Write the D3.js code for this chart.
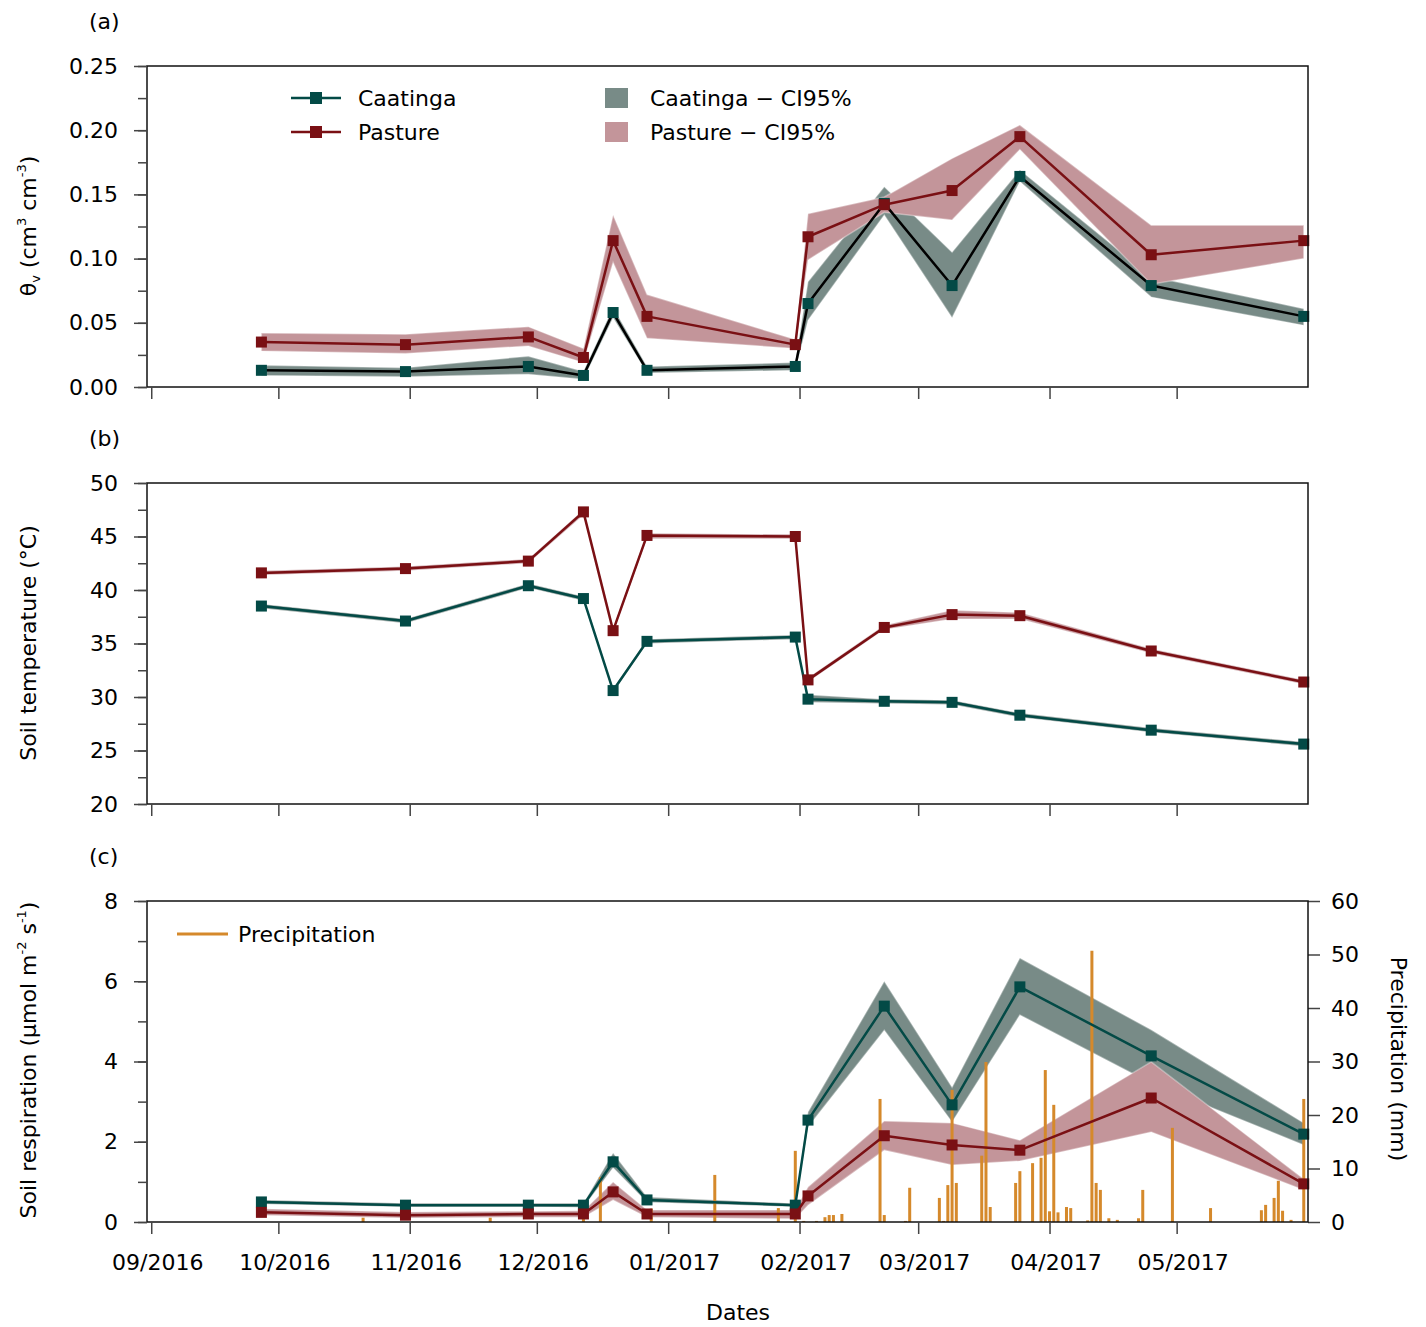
<!DOCTYPE html>
<html lang="en">
<head>
<meta charset="UTF-8">
<title>Soil moisture, temperature and respiration</title>
<script src="https://cdn.jsdelivr.net/npm/d3@7"></script>
<style>
body{margin:0;background:#fff}
svg text{font-family:'DejaVu Sans',sans-serif;fill:#000}
</style>
</head>
<body>
<div id="chart"></div>
<script>
// sampling campaigns
var sampleDates=['2016-09-27','2016-10-31','2016-11-29','2016-12-12','2016-12-19','2016-12-27','2017-01-31','2017-02-03','2017-02-21','2017-03-09','2017-03-25','2017-04-25','2017-05-31']

// (a) soil moisture, cm3 cm-3
var caaTheta  =[0.013,0.012,0.016,0.009,0.058,0.013,0.016,0.065,0.143,0.079,0.164,0.079,0.055]
var caaThetaLo=[0.009,0.008,0.010,0.006,0.054,0.011,0.013,0.052,0.134,0.054,0.160,0.070,0.048]
var caaThetaHi=[0.017,0.015,0.024,0.012,0.062,0.016,0.019,0.082,0.156,0.105,0.169,0.086,0.061]
var pasTheta  =[0.035,0.033,0.039,0.023,0.114,0.055,0.033,0.117,0.142,0.153,0.195,0.103,0.114]
var pasThetaLo=[0.028,0.026,0.032,0.019,0.097,0.038,0.030,0.099,0.136,0.130,0.185,0.080,0.100]
var pasThetaHi=[0.042,0.041,0.047,0.030,0.134,0.072,0.037,0.135,0.148,0.178,0.204,0.126,0.126]

// (b) soil temperature, C
var caaTemp  =[38.5,37.1,40.4,39.2,30.6,35.2,35.6,29.8,29.6,29.5,28.3,26.9,25.6]
var caaTempLo=[38.3,36.9,40.2,39.0,30.4,35.0,35.4,29.5,29.4,29.3,28.1,26.7,25.4]
var caaTempHi=[38.7,37.3,40.6,39.4,30.8,35.4,35.8,30.2,29.8,29.7,28.5,27.1,25.8]
var pasTemp  =[41.6,42.0,42.7,47.3,36.2,45.1,45.0,31.6,36.5,37.7,37.6,34.3,31.4]
var pasTempLo=[41.4,41.8,42.5,47.0,36.0,44.8,44.8,31.4,36.3,37.3,37.3,34.1,31.2]
var pasTempHi=[41.8,42.2,42.9,47.5,36.4,45.3,45.2,31.8,36.7,38.1,37.9,34.5,31.6]

// (c) soil respiration, umol m-2 s-1
var caaResp  =[0.50,0.42,0.42,0.42,1.50,0.55,0.42,2.54,5.38,2.92,5.86,4.14,2.19]
var caaRespLo=[0.45,0.38,0.38,0.37,1.35,0.49,0.38,2.37,4.78,2.49,5.16,3.46,1.92]
var caaRespHi=[0.55,0.47,0.47,0.47,1.72,0.62,0.46,2.74,6.00,3.36,6.58,4.79,2.47]
var pasResp  =[0.24,0.17,0.20,0.20,0.75,0.20,0.20,0.65,2.15,1.92,1.79,3.09,0.95]
var pasRespLo=[0.17,0.10,0.12,0.12,0.55,0.12,0.08,0.42,1.79,1.42,1.52,2.24,0.80]
var pasRespHi=[0.33,0.25,0.27,0.28,1.00,0.30,0.30,0.87,2.52,2.47,2.04,3.99,1.07]

// daily precipitation, mm
var rainDates=['2016-10-21','2016-11-20','2016-12-12','2016-12-16','2016-12-28','2017-01-12','2017-01-27','2017-01-31',
  '2017-02-02','2017-02-05','2017-02-07','2017-02-08','2017-02-09','2017-02-11','2017-02-20','2017-02-21','2017-02-26','2017-02-27',
  '2017-03-06','2017-03-07','2017-03-08','2017-03-09','2017-03-10','2017-03-16','2017-03-17','2017-03-18','2017-03-24','2017-03-25',
  '2017-03-28','2017-03-30','2017-03-31','2017-04-01','2017-04-02','2017-04-03','2017-04-05','2017-04-06','2017-04-10','2017-04-11',
  '2017-04-12','2017-04-13','2017-04-15','2017-04-17','2017-04-22','2017-04-23','2017-04-30','2017-05-09','2017-05-21','2017-05-22',
  '2017-05-24','2017-05-25','2017-05-26','2017-05-28','2017-05-31']
var rainMm=[0.8,0.8,2.0,8.4,2.5,8.8,2.6,13.3,
  0.2,0.2,0.9,1.3,1.3,1.5,23.0,1.3,0.2,6.4,
  4.5,0.2,6.9,24.7,7.3,12.4,29.9,2.8,7.3,9.5,
  11.0,12.0,28.4,2.0,21.9,1.8,2.8,2.6,0.3,50.7,
  7.3,6.0,0.7,0.4,0.7,6.0,17.6,2.6,2.2,3.2,
  4.5,7.7,2.1,0.4,23.0]

// axes
var monthTicks=['2016-09-01','2016-10-01','2016-11-01','2016-12-01','2017-01-01','2017-02-01','2017-03-01','2017-04-01','2017-05-01']
var monthLabels=['09/2016','10/2016','11/2016','12/2016','01/2017','02/2017','03/2017','04/2017','05/2017']
var thetaTicks=[0,0.05,0.10,0.15,0.20,0.25]
var tempTicks=[20,25,30,35,40,45,50]
var respTicks=[0,2,4,6,8]
var rainTicks=[0,10,20,30,40,50,60]

var col={caa:'#034a46',pas:'#7a1014',caaBand:'#788b87',pasBand:'#c3959a',rain:'#d5892b'}
var parse=d3.utcParse('%Y-%m-%d')
var dates=sampleDates.map(parse)

var W=1426,H=1327
var L=147,R=1308,PH=321
var x=d3.scaleUtc().domain([parse('2016-08-31'),parse('2017-06-01')]).range([L,R])

var svg=d3.select('#chart').append('svg').attr('width',W).attr('height',H)

var panels=[
  {tag:'(a)',top:66,dom:[0,0.25],ticks:thetaTicks,minor:0.025,fmt:d3.format('.2f'),caaLine:'#000',
   caa:[caaTheta,caaThetaLo,caaThetaHi],pas:[pasTheta,pasThetaLo,pasThetaHi]},
  {tag:'(b)',top:483,dom:[20,50],ticks:tempTicks,minor:2.5,fmt:d3.format('d'),caaLine:col.caa,
   caa:[caaTemp,caaTempLo,caaTempHi],pas:[pasTemp,pasTempLo,pasTempHi]},
  {tag:'(c)',top:901,dom:[0,8],ticks:respTicks,minor:1,fmt:d3.format('d'),caaLine:col.caa,
   caa:[caaResp,caaRespLo,caaRespHi],pas:[pasResp,pasRespLo,pasRespHi]}
]

function band(g,y,s,fill){
  var area=d3.area()
    .x(function(d,i){return x(dates[i])})
    .y0(function(d,i){return y(s[1][i])})
    .y1(function(d,i){return y(s[2][i])})
  g.append('path').datum(s[0]).attr('d',area)
    .attr('fill',fill).attr('stroke','rgba(255,255,255,0.35)').attr('stroke-width',1.5)
}
function series(g,y,vals,lineCol,markCol){
  var line=d3.line().x(function(d,i){return x(dates[i])}).y(function(d){return y(d)})
  g.append('path').datum(vals).attr('d',line).attr('fill','none')
    .attr('stroke',lineCol).attr('stroke-width',2.5).attr('stroke-linejoin','round')
  g.selectAll(null).data(vals).enter().append('rect')
    .attr('x',function(d,i){return x(dates[i])-5.5})
    .attr('y',function(d){return y(d)-5.5})
    .attr('width',11).attr('height',11).attr('fill',markCol)
}

panels.forEach(function(p,k){
  var bottom=p.top+PH
  var y=d3.scaleLinear().domain(p.dom).range([bottom,p.top])
  var g=svg.append('g')

  band(g,y,p.caa,col.caaBand)
  band(g,y,p.pas,col.pasBand)

  if(k==2){
    // precipitation on secondary axis
    var y2=d3.scaleLinear().domain([0,60]).range([bottom,p.top])
    g.selectAll(null).data(rainMm).enter().append('rect')
      .attr('x',function(d,i){return x(parse(rainDates[i]))-1.5})
      .attr('y',function(d){return y2(d)})
      .attr('width',3)
      .attr('height',function(d){return y2(0)-y2(d)})
      .attr('fill',col.rain)
    var ax2=g.append('g').attr('transform','translate('+R+',0)')
      .call(d3.axisRight(y2).tickValues(rainTicks).tickSize(12).tickPadding(11))
    ax2.select('.domain').remove()
    ax2.selectAll('text').style('font-size','22px')
    ax2.selectAll('line').attr('stroke','#444').attr('stroke-width',1.5)
  }

  series(g,y,p.caa[0],p.caaLine,col.caa)
  series(g,y,p.pas[0],col.pas,col.pas)

  // frame
  g.append('rect').attr('x',L).attr('y',p.top).attr('width',R-L).attr('height',PH)
    .attr('fill','none').attr('stroke','#111').attr('stroke-width',1.5)

  // y axis, major + minor ticks
  var minors=d3.range(p.dom[0],p.dom[1]+1e-9,p.minor)
  var mn=g.append('g').attr('transform','translate('+L+',0)')
    .call(d3.axisLeft(y).tickValues(minors).tickSize(9).tickFormat(''))
  var mj=g.append('g').attr('transform','translate('+L+',0)')
    .call(d3.axisLeft(y).tickValues(p.ticks).tickSize(13).tickPadding(16).tickFormat(p.fmt))
  mn.select('.domain').remove(); mj.select('.domain').remove()
  mj.selectAll('text').style('font-size','22px')
  g.selectAll('.tick line').attr('stroke','#444').attr('stroke-width',1.5)

  // x axis
  var xa=g.append('g').attr('transform','translate(0,'+bottom+')')
    .call(d3.axisBottom(x).tickValues(monthTicks.map(parse)).tickSize(12).tickPadding(20)
      .tickFormat(function(d,i){return k==2?monthLabels[i]:''}))
  xa.select('.domain').remove()
  xa.selectAll('line').attr('stroke','#444').attr('stroke-width',1.5)
  xa.selectAll('text').style('font-size','22px').attr('dx',6)

  svg.append('text').attr('x',89).attr('y',p.top-37).style('font-size','22px').text(p.tag)
})

// y titles
function ytitle(xp,yc,rot,parts){
  var t=svg.append('text').attr('transform','translate('+xp+','+yc+') rotate('+rot+')')
    .attr('text-anchor','middle').style('font-size','22px')
  parts.forEach(function(s){
    var sp=t.append('tspan').text(s[0])
    if(s[1]=='sup') sp.style('font-size','13px').attr('dy',-10)
    else if(s[1]=='sub') sp.style('font-size','13px').attr('dy',4)
    else if(s[1]=='back') sp.attr('dy',10)
    else if(s[1]=='up') sp.attr('dy',-4)
  })
}
ytitle(36,226,-90,[['θ'],['v','sub'],[' (cm','up'],['3','sup'],[' cm','back'],['-3','sup'],[')','back']])
ytitle(36,643,-90,[['Soil temperature (°C)']])
ytitle(36,1060,-90,[['Soil respiration (µmol m'],['-2','sup'],[' s','back'],['-1','sup'],[')','back']])
ytitle(1391,1059,90,[['Precipitation (mm)']])

svg.append('text').attr('x',738).attr('y',1320).attr('text-anchor','middle').style('font-size','22px').text('Dates')

// legend (a)
var lg=svg.append('g')
var legRows=[{name:'Caatinga',c:col.caa,band:col.caaBand,y:98},{name:'Pasture',c:col.pas,band:col.pasBand,y:132}]
legRows.forEach(function(r){
  lg.append('line').attr('x1',291).attr('x2',341).attr('y1',r.y).attr('y2',r.y).attr('stroke',r.c).attr('stroke-width',2.5)
  lg.append('rect').attr('x',310).attr('y',r.y-6).attr('width',12).attr('height',12).attr('fill',r.c)
  lg.append('text').attr('x',358).attr('y',r.y+8).style('font-size','22px').text(r.name)
  lg.append('rect').attr('x',605).attr('y',r.y-10).attr('width',23).attr('height',20).attr('fill',r.band)
  lg.append('text').attr('x',650).attr('y',r.y+8).style('font-size','22px').text(r.name+' \u2212 CI95%')
})
// legend (c)
lg.append('line').attr('x1',177).attr('x2',228).attr('y1',934).attr('y2',934).attr('stroke',col.rain).attr('stroke-width',3)
lg.append('text').attr('x',238).attr('y',942).style('font-size','22px').text('Precipitation')
</script>
</body>
</html>
